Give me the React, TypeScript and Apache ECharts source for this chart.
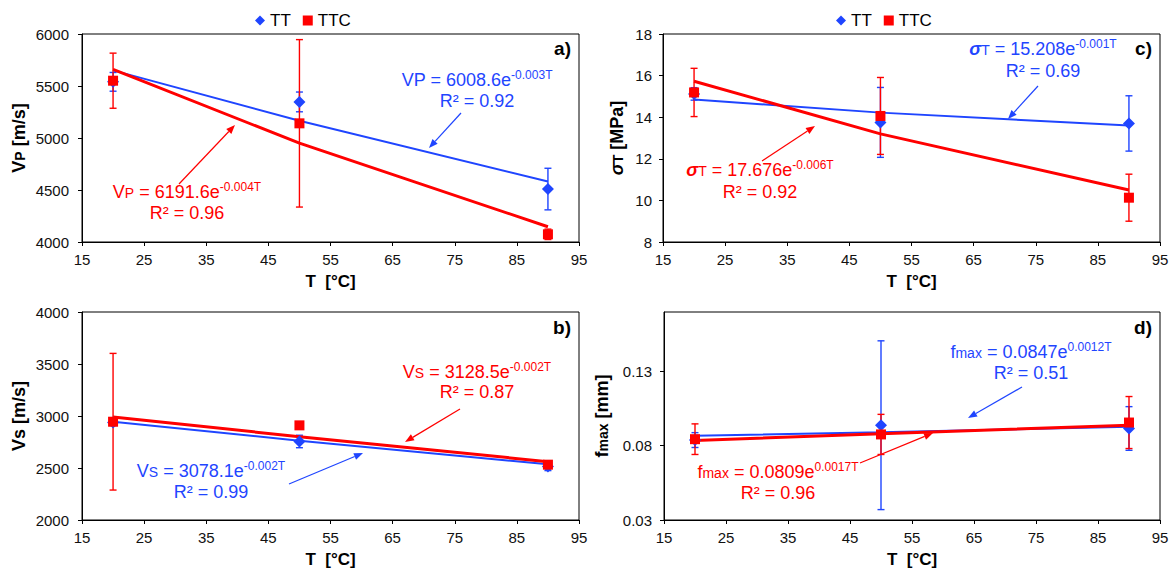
import React, { useEffect, useRef } from 'react';
import * as echarts from 'echarts';

const FONT = "'Liberation Sans', Arial, sans-serif";
const BLUE = '#1f45ff';
const RED = '#ff0000';

// ---------- data ----------
const temperatures = [20, 50, 90];
const xTickValues = [15, 25, 35, 45, 55, 65, 75, 85, 95];

// a) Vp [m/s]
const vpTT = [5540, 5347, 4509];
const vpTTErr = [90, 95, 200];
const vpTTC = [5551, 5141, 4074];
const vpTTCErr = [265, 805, 50];
const vpTTTrend = [5650, 5165, 4581];
const vpTTCTrend = [5660, 4950, 4147];
const vpTicks = [4000, 4500, 5000, 5500, 6000];

// b) Vs [m/s]
const vsTT = [2938, 2755, 2515];
const vsTTErr = [30, 60, 40];
const vsTTC = [2945, 2910, 2532];
const vsTTCErr = [657, 20, 25];
const vsTTTrend = [2945, 2763, 2535];
const vsTTCTrend = [2990, 2801, 2561];
const vsTicks = [2000, 2500, 3000, 3500, 4000];

// c) sigma T [MPa]
const stTT = [15.12, 13.75, 13.7];
const stTTErr = [0.3, 1.68, 1.33];
const stTTC = [15.19, 14.06, 10.13];
const stTTCErr = [1.16, 1.85, 1.13];
const stTTTrend = [14.85, 14.22, 13.6];
const stTTCTrend = [15.73, 13.2, 10.5];
const stTicks = [8, 10, 12, 14, 16, 18];

// d) fmax [mm]
const fTT = [0.0838, 0.0938, 0.0916];
const fTTErr = [0.005, 0.0568, 0.0147];
const fTTC = [0.0844, 0.0876, 0.0956];
const fTTCErr = [0.0103, 0.0135, 0.0175];
const fTTTrend = [0.0867, 0.089, 0.0927];
const fTTCTrend = [0.0835, 0.0881, 0.0938];
const fTicks = [0.03, 0.08, 0.13];

// ---------- helpers ----------
const pair = (vals: number[]) => temperatures.map((t, i) => [t, vals[i]]);

function errorSeries(idx: number, vals: number[], errs: number[], color: string) {
  return {
    type: 'custom',
    name: 'err' + idx + color,
    coordinateSystem: 'cartesian2d',
    xAxisIndex: idx,
    yAxisIndex: idx,
    z: 2,
    encode: { x: 0, y: [1, 2] },
    data: temperatures.map((t, i) => [t, vals[i] - errs[i], vals[i] + errs[i]]),
    renderItem: (_p: any, api: any) => {
      const lo = api.coord([api.value(0), api.value(1)]);
      const hi = api.coord([api.value(0), api.value(2)]);
      const w = 3.5;
      const st = { stroke: color, lineWidth: 1.4 };
      return {
        type: 'group',
        children: [
          { type: 'line', shape: { x1: lo[0], y1: lo[1], x2: hi[0], y2: hi[1] }, style: st },
          { type: 'line', shape: { x1: lo[0] - w, y1: lo[1], x2: lo[0] + w, y2: lo[1] }, style: st },
          { type: 'line', shape: { x1: hi[0] - w, y1: hi[1], x2: hi[0] + w, y2: hi[1] }, style: st },
        ],
      };
    },
  };
}

function panelSeries(idx: number, tt: number[], ttErr: number[], ttc: number[], ttcErr: number[], ttTrend: number[], ttcTrend: number[]) {
  return [
    errorSeries(idx, tt, ttErr, BLUE),
    errorSeries(idx, ttc, ttcErr, RED),
    {
      type: 'line', name: 'trendTT' + idx, xAxisIndex: idx, yAxisIndex: idx, z: 3,
      data: pair(ttTrend), showSymbol: false, symbol: 'none',
      lineStyle: { color: BLUE, width: 2 }, itemStyle: { color: BLUE },
    },
    {
      type: 'line', name: 'trendTTC' + idx, xAxisIndex: idx, yAxisIndex: idx, z: 3,
      data: pair(ttcTrend), showSymbol: false, symbol: 'none',
      lineStyle: { color: RED, width: 3 }, itemStyle: { color: RED },
    },
    {
      type: 'scatter', name: 'TT', xAxisIndex: idx, yAxisIndex: idx, z: 4,
      data: pair(tt), symbol: 'diamond', symbolSize: 12, itemStyle: { color: BLUE, opacity: 1 },
    },
    {
      type: 'scatter', name: 'TTC', xAxisIndex: idx, yAxisIndex: idx, z: 5,
      data: pair(ttc), symbol: 'rect', symbolSize: 10, itemStyle: { color: RED, opacity: 1 },
    },
  ];
}

function xAxis(idx: number) {
  return {
    type: 'value', gridIndex: idx, min: 15, max: 95,
    name: 'T  [°C]', nameLocation: 'middle', nameGap: 31,
    nameTextStyle: { fontFamily: FONT, fontSize: 17, fontWeight: 'bold', color: '#000' },
    axisLine: { show: true, onZero: false, lineStyle: { color: '#000', width: 1 } },
    axisTick: { show: true, inside: false, length: 4, customValues: xTickValues, lineStyle: { color: '#000' } },
    axisLabel: { customValues: xTickValues, margin: 10, fontFamily: FONT, fontSize: 15, color: '#111', formatter: (v: number) => String(v) },
    splitLine: { show: false },
  };
}

function yAxis(idx: number, min: number, max: number, ticks: number[], name: string, rich: any, gap: number, margin: number, fmt: (v: number) => string) {
  return {
    type: 'value', gridIndex: idx, min, max,
    name, nameLocation: 'middle', nameGap: gap, nameRotate: 90,
    nameTextStyle: { fontFamily: FONT, fontSize: 18, fontWeight: 'bold', color: '#000', rich },
    axisLine: { show: true, onZero: false, lineStyle: { color: '#000', width: 1 } },
    axisTick: { show: true, inside: false, length: 4, customValues: ticks, lineStyle: { color: '#000' } },
    axisLabel: { customValues: ticks, margin, fontFamily: FONT, fontSize: 15, color: '#111', formatter: fmt },
    splitLine: { show: false },
  };
}

const plain = (v: number) => String(v);

const nameRich = {
  b: { fontFamily: FONT, fontSize: 18, fontWeight: 'bold', color: '#000', lineHeight: 22 },
  s: { fontFamily: FONT, fontSize: 14, fontWeight: 'bold', color: '#000', lineHeight: 22, verticalAlign: 'middle', padding: [2, 0, 0, 0] },
  g: { fontFamily: FONT, fontSize: 18, fontWeight: 'bold', fontStyle: 'italic', color: '#000', lineHeight: 22 },
};

function eqRich(color: string) {
  return {
    m: { fontFamily: FONT, fontSize: 18, fill: color, lineHeight: 22 },
    s: { fontFamily: FONT, fontSize: 14, fill: color, lineHeight: 22, verticalAlign: 'middle', padding: [2, 0, 0, 0] },
    g: { fontFamily: FONT, fontSize: 18, fontWeight: 'bold', fontStyle: 'italic', fill: color, lineHeight: 22 },
    sup: { fontFamily: FONT, fontSize: 12, fill: color, lineHeight: 18, verticalAlign: 'top' },
  };
}

function arrow(x1: number, y1: number, x2: number, y2: number, color: string) {
  const ang = Math.atan2(y2 - y1, x2 - x1);
  const L = 9, W = 3.5;
  const bx = x2 - L * Math.cos(ang), by = y2 - L * Math.sin(ang);
  const px = -Math.sin(ang) * W, py = Math.cos(ang) * W;
  return [
    { type: 'line', z: 10, shape: { x1, y1, x2: bx, y2: by }, style: { stroke: color, lineWidth: 1.2 } },
    { type: 'polygon', z: 10, shape: { points: [[x2, y2], [bx + px, by + py], [bx - px, by - py]] }, style: { fill: color } },
  ];
}

function annotation(cx: number, y1: number, y2: number, color: string, eq: string, r2: string, from: number[], to: number[]) {
  return [
    { type: 'text', z: 10, style: { x: cx, y: y1, text: eq, rich: eqRich(color), fill: color, align: 'center', verticalAlign: 'middle', fontFamily: FONT, fontSize: 18 } },
    { type: 'text', z: 10, style: { x: cx, y: y2, text: r2, fill: color, align: 'center', verticalAlign: 'middle', fontFamily: FONT, fontSize: 18 } },
    ...arrow(from[0], from[1], to[0], to[1], color),
  ];
}

function panelLabel(x: number, y: number, t: string) {
  return { type: 'text', z: 10, style: { x, y, text: t, fill: '#000', align: 'right', verticalAlign: 'middle', fontFamily: FONT, fontSize: 19, fontWeight: 'bold' } };
}

const legendBase = {
  orient: 'horizontal', padding: 0, top: 12, itemWidth: 10, itemHeight: 10, itemGap: 12,
  textStyle: { fontFamily: FONT, fontSize: 17, color: '#000' },
  data: [{ name: 'TT', icon: 'diamond' }, { name: 'TTC', icon: 'rect' }],
  selectedMode: false,
};

export default function App() {
  const ref = useRef<HTMLDivElement>(null);
  useEffect(() => {
    if (!ref.current) return;
    const chart = echarts.init(ref.current, null, { renderer: 'svg' });
    const option: any = {
      animation: false,
      backgroundColor: '#fff',
      legend: [
        { ...legendBase, left: 255 },
        { ...legendBase, left: 836 },
      ],
      grid: [
        { left: 82, top: 34, width: 497, height: 208, show: true, borderColor: '#000', borderWidth: 1, backgroundColor: 'transparent' },
        { left: 663, top: 34, width: 497, height: 208, show: true, borderColor: '#000', borderWidth: 1, backgroundColor: 'transparent' },
        { left: 82, top: 312, width: 497, height: 208, show: true, borderColor: '#000', borderWidth: 1, backgroundColor: 'transparent' },
        { left: 664, top: 312, width: 496, height: 208, show: true, borderColor: '#000', borderWidth: 1, backgroundColor: 'transparent' },
      ],
      xAxis: [xAxis(0), xAxis(1), xAxis(2), xAxis(3)],
      yAxis: [
        yAxis(0, 4000, 6000, vpTicks, '{b|V}{s|P}{b| [m/s]}', nameRich, 52, 13, plain),
        yAxis(1, 8, 18, stTicks, '{g|σ}{s|T}{b| [MPa]}', nameRich, 35, 11, plain),
        yAxis(2, 2000, 4000, vsTicks, '{b|Vs [m/s]}', nameRich, 52, 13, plain),
        yAxis(3, 0.03, 0.17, fTicks, '{b|f}{s|max}{b| [mm]}', nameRich, 51, 12, (v: number) => v.toFixed(2)),
      ],
      series: [
        ...panelSeries(0, vpTT, vpTTErr, vpTTC, vpTTCErr, vpTTTrend, vpTTCTrend),
        ...panelSeries(1, stTT, stTTErr, stTTC, stTTCErr, stTTTrend, stTTCTrend),
        ...panelSeries(2, vsTT, vsTTErr, vsTTC, vsTTCErr, vsTTTrend, vsTTCTrend),
        ...panelSeries(3, fTT, fTTErr, fTTC, fTTCErr, fTTTrend, fTTCTrend),
      ],
      graphic: {
        elements: [
          panelLabel(571, 48, 'a)'),
          panelLabel(1152, 48, 'c)'),
          panelLabel(571, 327, 'b)'),
          panelLabel(1152, 327, 'd)'),
          ...annotation(477, 80, 101, BLUE, '{m|VP = 6008.6e}{sup|-0.003T}', 'R² = 0.92', [461, 113], [429, 148]),
          ...annotation(187, 192, 213, RED, '{m|V}{s|P}{m| = 6191.6e}{sup|-0.004T}', 'R² = 0.96', [179, 184], [235, 125]),
          ...annotation(1043, 49, 71, BLUE, '{g|σ}{s|T}{m| = 15.208e}{sup|-0.001T}', 'R² = 0.69', [1038, 86], [1008, 119]),
          ...annotation(760, 170, 192, RED, '{g|σ}{s|T}{m| = 17.676e}{sup|-0.006T}', 'R² = 0.92', [762, 161], [815, 126]),
          ...annotation(477, 372, 392, RED, '{m|V}{s|S}{m| = 3128.5e}{sup|-0.002T}', 'R² = 0.87', [460, 409], [405, 442]),
          ...annotation(211, 471, 492, BLUE, '{m|V}{s|S}{m| = 3078.1e}{sup|-0.002T}', 'R² = 0.99', [289, 484], [363, 453]),
          ...annotation(1031, 352, 373, BLUE, '{m|f}{s|max}{m| = 0.0847e}{sup|0.0012T}', 'R² = 0.51', [1022, 387], [968, 418]),
          ...annotation(778, 472, 493, RED, '{m|f}{s|max}{m| = 0.0809e}{sup|0.0017T}', 'R² = 0.96', [860, 463], [933, 433]),
        ],
      },
    };
    chart.setOption(option);
    return () => chart.dispose();
  }, []);
  return (
    <div
      ref={ref}
      style={{ position: 'absolute', left: 0, top: 0, width: 1174, height: 573, background: '#fff' }}
    />
  );
}
